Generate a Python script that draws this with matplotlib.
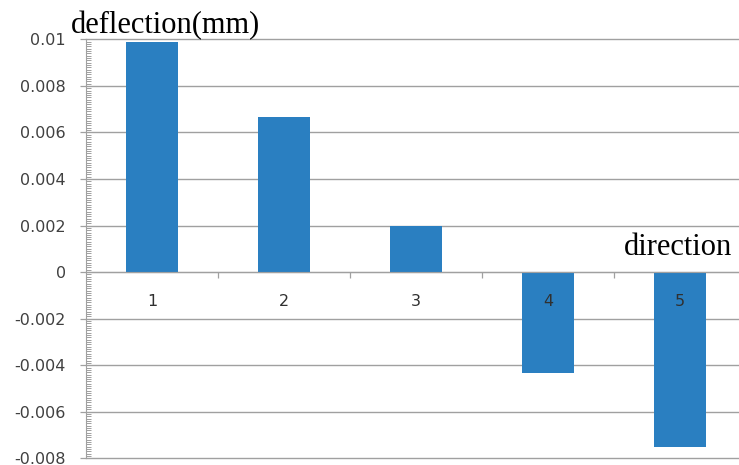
import numpy as np
import matplotlib.pyplot as plt
from matplotlib.ticker import MultipleLocator, FixedLocator

# data
categories = ['1', '2', '3', '4', '5']
deflection = [0.0099, 0.00665, 0.00199, -0.00435, -0.00752]
yticks = [-0.008, -0.006, -0.004, -0.002, 0, 0.002, 0.004, 0.006, 0.008, 0.01]
ylabels = ['-0.008', '-0.006', '-0.004', '-0.002', '0', '0.002', '0.004', '0.006', '0.008', '0.01']

grey = '#a0a0a0'
blue = '#2a7fc1'

fig = plt.figure(figsize=(7.39, 4.65), dpi=100)
ax = fig.add_axes([86/739, 1-458.3/465, 660/739, 419/465])

x = np.arange(len(categories))
ax.bar(x, deflection, width=0.4, color=blue, zorder=2)

ax.set_xlim(-0.5, 4.5)
ax.set_ylim(-0.008, 0.01)

# y axis
ax.set_yticks(yticks)
ax.set_yticklabels(ylabels)
ax.yaxis.set_minor_locator(MultipleLocator(0.0001))
ax.tick_params(axis='y', which='major', direction='out', length=4.5, width=0.9,
               color=grey, pad=10, labelsize=11.5, labelcolor='#404040')
ax.tick_params(axis='y', which='minor', direction='in', length=3.5, width=0.7, color=grey)
ax.grid(axis='y', which='major', color=grey, lw=1.0, zorder=0)
ax.set_axisbelow(True)
for gl in ax.get_ygridlines():
    gl.set_clip_on(False)

# x axis sits on zero, ticks between categories
ax.spines['bottom'].set_position(('data', 0))
ax.spines['bottom'].set_color(grey)
ax.spines['left'].set_color(grey)
ax.spines['top'].set_visible(False)
ax.spines['right'].set_visible(False)
ax.xaxis.set_major_locator(FixedLocator(x[:-1] + 0.5))
ax.set_xticklabels([])
ax.tick_params(axis='x', direction='out', length=4.5, width=0.9, color=grey)

# category labels drawn over the bars
for xi, lab in zip(x, categories):
    ax.annotate(lab, (xi, 0), xytext=(0, -29), textcoords='offset pixels',
                ha='center', va='center', fontsize=11.5, color='#303030', zorder=5)

fig.text(71/739, 1-33/465, 'deflection(mm)', family='Liberation Serif',
         fontsize=22, va='baseline', ha='left')
fig.text(732/739, 1-255/465, 'direction', family='Liberation Serif',
         fontsize=22, va='baseline', ha='right')

fig.savefig('out.png', dpi=100)
